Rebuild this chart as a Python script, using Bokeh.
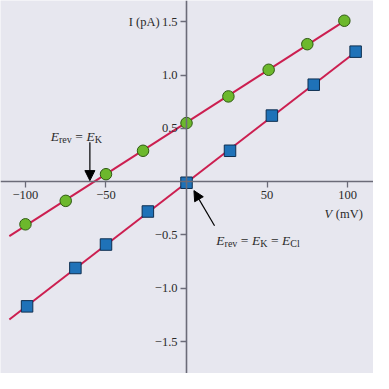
import numpy as np
from bokeh.plotting import figure
from bokeh.models import Range1d, FixedTicker, Label, Arrow, NormalHead
from bokeh.embed import file_html
from bokeh.resources import INLINE

# ---- data ----
green_v = [-100, -75, -50, -27, 0, 26, 51, 75, 98]
green_i = [-0.40, -0.18, 0.07, 0.29, 0.55, 0.80, 1.05, 1.29, 1.51]
blue_v = [-99, -69, -50, -24, 0, 27, 53, 79, 105]
blue_i = [-1.17, -0.81, -0.59, -0.28, -0.01, 0.29, 0.62, 0.91, 1.22]
line_start_v = -110
x_ticks = [-100, -50, 50, 100]
x_tick_labels = ["\u2212100", "\u221250", "50", "100"]
y_ticks = [-1.5, -1.0, -0.5, 0.5, 1.0, 1.5]
y_tick_labels = ["\u22121.5", "\u22121.0", "\u22120.5", "0.5", "1.0", "1.5"]
ek_v = -60  # reversal potential marked by first arrow

SERIF = "Liberation Serif"
TXT = "#2a2a2a"
AX = "#6b6b78"
LINE = "#cc1f50"
S = 373 / 389.0

p = figure(width=373, height=373, x_range=Range1d(-115.5, 116.1),
           y_range=Range1d(-1.80, 1.70), output_backend="svg",
           toolbar_location=None, min_border=0)
p.background_fill_color = "#e7e7ef"
p.border_fill_color = "#e7e7ef"
p.outline_line_color = None
p.grid.visible = False

for ax in (p.xaxis[0], p.yaxis[0]):
    ax.fixed_location = 0
    ax.axis_line_color = AX
    ax.axis_line_width = 1.6
    ax.major_tick_line_color = AX
    ax.major_tick_line_width = 1.3
    ax.major_tick_out = 6
    ax.major_tick_in = 0
    ax.minor_tick_line_color = None
    ax.major_label_text_font = SERIF
    ax.major_label_text_font_size = "12.5px"
    ax.major_label_text_color = TXT
    ax.major_label_standoff = 3

p.xaxis[0].ticker = FixedTicker(ticks=x_ticks)
p.xaxis[0].major_label_overrides = dict(zip(x_ticks, x_tick_labels))
p.yaxis[0].ticker = FixedTicker(ticks=y_ticks)
p.yaxis[0].major_label_overrides = dict(zip(y_ticks, y_tick_labels))

# fitted lines
for v, i in ((green_v, green_i), (blue_v, blue_i)):
    k, b = np.polyfit(v, i, 1)
    xs = [line_start_v, v[-1]]
    p.line(xs, [k * x + b for x in xs], line_color=LINE, line_width=2)

p.scatter(green_v, green_i, marker="circle", size=11.5, fill_color="#6cb82c",
          line_color="#2f5a12", line_width=1)
p.scatter(blue_v, blue_i, marker="square", size=11.5, fill_color="#1f72b8",
          line_color="#0e2f50", line_width=1)

# axis titles
p.add_layout(Label(x=0, y=1.5, x_offset=-28 * S, text="I (pA)", text_align="right",
                   text_baseline="middle", text_font=SERIF, text_font_size="12.5px",
                   text_color=TXT))
p.add_layout(Label(x=109.5, y=-0.3, text="(mV)", text_align="right",
                   text_baseline="middle", text_font=SERIF, text_font_size="12.5px",
                   text_color=TXT))
p.add_layout(Label(x=109.5, y=-0.3, x_offset=-32 * S, text="V", text_align="right",
                   text_baseline="middle", text_font=SERIF, text_font_size="12.5px",
                   text_font_style="italic", text_color=TXT))

# annotation texts with subscripts
W = {"E": 611, "r": 333, "e": 444, "v": 500, "=": 564, "K": 722,
     "C": 667, "l": 278}


def place(x, y, pieces):
    off = 0.0
    for txt, size, style, dy, gap in pieces:
        off += gap
        p.add_layout(Label(x=x, y=y, x_offset=off, y_offset=dy, text=txt,
                           text_font=SERIF, text_font_size=f"{size}px",
                           text_font_style=style, text_baseline="alphabetic",
                           text_color=TXT))
        off += sum(W[c] for c in txt) * size / 1000.0


big, small = 13.5, 10
g = 3.5
place(-84.3, 0.423, [("E", big, "italic", 0, 0), ("rev", small, "normal", -3, 0),
                     ("=", big, "normal", 0, g), ("E", big, "italic", 0, g),
                     ("K", small, "normal", -3, 0)])
place(18.5, -0.55, [("E", big, "italic", 0, 0), ("rev", small, "normal", -3, 0),
                    ("=", big, "normal", 0, g), ("E", big, "italic", 0, g),
                    ("K", small, "normal", -3, 0), ("=", big, "normal", 0, g),
                    ("E", big, "italic", 0, g), ("Cl", small, "normal", -3, 0)])

p.add_layout(Arrow(end=NormalHead(size=10, fill_color="black", line_color="black"),
                   x_start=ek_v, y_start=0.37, x_end=ek_v, y_end=0.01,
                   line_color="black", line_width=1.2))
p.add_layout(Arrow(end=NormalHead(size=10, fill_color="black", line_color="black"),
                   x_start=17.4, y_start=-0.414, x_end=4.6, y_end=-0.084,
                   line_color="black", line_width=1.2))

open("out.html", "w").write(file_html(p, INLINE))
